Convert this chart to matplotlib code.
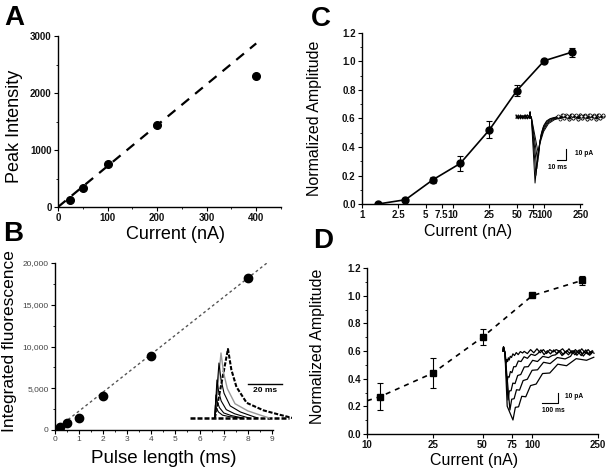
import matplotlib
matplotlib.use('Agg')
import matplotlib.pyplot as plt
import numpy as np
from matplotlib.ticker import FixedLocator, FixedFormatter, FuncFormatter, MultipleLocator, NullLocator

plt.rcParams['font.family'] = ['Liberation Sans', 'DejaVu Sans']

W, H = 607, 472

# ---- panel A: peak intensity vs current
a_current = [25, 50, 100, 200, 400]
a_peak = [130, 340, 760, 1440, 2300]
a_fit_x = [0, 400]
a_fit_y = [0, 2870]

# ---- panel B: integrated fluorescence vs pulse length
b_pulse = [0.2, 0.5, 1, 2, 4, 8]
b_fluor = [400, 850, 1450, 4100, 8900, 18200]
b_fit_x = [0, 8.8]
b_fit_y = [0, 20000]

# ---- panel C: normalized amplitude vs current (log)
c_current = [1.5, 3, 6, 12, 25, 50, 100, 200]
c_amp = [0.0, 0.03, 0.17, 0.285, 0.52, 0.795, 1.005, 1.065]
c_err = [0.01, 0.015, 0.02, 0.05, 0.06, 0.04, 0.01, 0.03]
c_ticks = [1, 2.5, 5, 7.5, 10, 25, 50, 75, 100, 250]
c_ticklabels = ['1', '2.5', '5', '7.5', '10', '25', '50', '75', '100', '250']

# ---- panel D
d_current = [12, 25, 50, 100, 200]
d_amp = [0.27, 0.44, 0.70, 1.005, 1.11]
d_err = [0.10, 0.11, 0.06, 0.01, 0.03]
d_fit_x = [10, 12, 25, 50, 100, 200]
d_fit_y = [0.24, 0.27, 0.44, 0.70, 1.0, 1.11]
d_ticks = [10, 25, 50, 75, 100, 250]
d_ticklabels = ['10', '25', '50', '75', '100', '250']

# ---- inset traces
b_ins_amp = [69, 65, 55, 38, 23, 13]
b_ins_peak = [24.7, 20.6, 19.4, 18.2, 17.6, 17.3]
b_ins_stretch = [1.0, 0.75, 0.6, 0.5, 0.42, 0.38]
b_decay_dt = [0, 2, 5, 11, 21, 30, 38]
b_decay_frac = [1, 0.7, 0.45, 0.22, 0.11, 0.05, 0.0]

c_ins_amp = [60, 53, 47, 41, 35]
c_ins_peak = [25.5, 26.5, 27.5, 28.5, 29.5]
c_ins_stretch = [1.35, 1.2, 1.05, 0.9, 0.8]
c_decay_dt = [0, 2, 4, 7, 11, 16, 24]
c_decay_frac = [1, 0.62, 0.40, 0.22, 0.10, 0.04, 0.0]
c_noise = [0.8, -0.9, 1.3, -0.5, 0.6, -1.2, 1.0, -0.4, 1.4, -1.0, 0.3, -0.7]

d_ins_amp = [69, 59, 49, 32, 12]
d_ins_peak = [81, 62, 50, 44, 40]
d_ins_stretch = [1.0, 0.75, 0.55, 0.38, 0.22]
d_decay_dt = [0, 15, 35, 55, 80, 110, 145, 185, 230, 280, 335, 395, 460, 505]
d_decay_frac = [1, 0.86, 0.78, 0.70, 0.62, 0.53, 0.45, 0.37, 0.29, 0.22, 0.17, 0.14, 0.12, 0.12]
d_noise = [0, 3, -2, 3, -3, 2, -2, 3, -2, 2, -3, 2, -1, 2]


def px_axes(l, t, r, b):
    return fig.add_axes([l / W, 1 - b / H, (r - l) / W, (b - t) / H])


def style_axes(ax, size=7, bold=True, color='#111111'):
    for s in ['top', 'right']:
        ax.spines[s].set_visible(False)
    for s in ['left', 'bottom']:
        ax.spines[s].set_linewidth(1.0)
    ax.tick_params(which='major', direction='out', length=3, width=0.8,
                   labelsize=size, pad=1.5, labelcolor=color)
    ax.tick_params(which='minor', direction='out', length=1.6, width=0.6)
    for lab in ax.get_xticklabels() + ax.get_yticklabels():
        lab.set_fontweight('bold' if bold else 'normal')


def place_labels(ax, xl, yl, xpos, ypos, size, ysize=None):
    ax.set_xlabel(xl, fontsize=size)
    ax.set_ylabel(yl, fontsize=ysize or size)
    ax.xaxis.set_label_coords(*xpos)
    ax.yaxis.set_label_coords(*ypos)
    ax.xaxis.label.set_va('center')
    ax.yaxis.label.set_va('center')


fig = plt.figure(figsize=(W / 100, H / 100), dpi=100)

# ================= A
axA = px_axes(58, 36, 281, 207)
axA.plot(a_fit_x, a_fit_y, color='black', lw=1.6, dashes=(4.5, 3.5))
axA.plot(a_current, a_peak, 'o', color='black', ms=5.5)
axA.set_xlim(0, 450)
axA.set_ylim(0, 3000)
axA.xaxis.set_major_locator(MultipleLocator(100))
axA.xaxis.set_minor_locator(MultipleLocator(50))
axA.yaxis.set_major_locator(MultipleLocator(1000))
axA.yaxis.set_minor_locator(MultipleLocator(500))
style_axes(axA)
place_labels(axA, 'Current (nA)', 'Peak Intensity', (0.529, -0.158), (-0.197, 0.474), 13)

# ================= B
axB = px_axes(55, 263, 273, 430)
axB.plot(b_fit_x, b_fit_y, color='#555555', lw=1.0, dashes=(2, 2))
axB.plot(b_pulse, b_fluor, 'o', color='black', ms=6)
axB.set_xlim(0, 9.05)
axB.set_ylim(0, 20000)
axB.xaxis.set_major_locator(MultipleLocator(1))
axB.xaxis.set_minor_locator(MultipleLocator(0.5))
axB.yaxis.set_major_locator(MultipleLocator(5000))
axB.yaxis.set_minor_locator(MultipleLocator(2500))
axB.yaxis.set_major_formatter(FuncFormatter(lambda v, p: f'{int(v):,}'))
style_axes(axB, size=6, bold=False, color='#444444')
place_labels(axB, 'Pulse length (ms)', 'Integrated fluorescence', (0.5, -0.172), (-0.21, 0.53), 13.5, 12.5)

# ================= C
axC = px_axes(362, 33, 582, 204)
axC.set_xscale('log')
axC.errorbar(c_current, c_amp, yerr=c_err, fmt='-o', color='black', ms=5,
             lw=1.2, elinewidth=0.8, capsize=2, capthick=0.8)
axC.set_xlim(1, 260)
axC.set_ylim(0, 1.2)
axC.xaxis.set_major_locator(FixedLocator(c_ticks))
axC.xaxis.set_major_formatter(FixedFormatter(c_ticklabels))
axC.xaxis.set_minor_locator(NullLocator())
axC.yaxis.set_major_locator(MultipleLocator(0.2))
axC.yaxis.set_minor_locator(MultipleLocator(0.1))
axC.yaxis.set_major_formatter(FuncFormatter(lambda v, p: f'{v:.1f}'))
style_axes(axC)
place_labels(axC, 'Current (nA)', 'Normalized Amplitude', (0.482, -0.158), (-0.214, 0.503), 11.5)

# ================= D
axD = px_axes(367, 268, 598, 434)
axD.set_xscale('log')
axD.plot(d_fit_x, d_fit_y, color='black', lw=1.2, dashes=(3, 3))
axD.errorbar(d_current, d_amp, yerr=d_err, fmt='s', color='black', ms=4.5,
             elinewidth=0.8, capsize=2, capthick=0.8)
axD.set_xlim(10, 250)
axD.set_ylim(0, 1.2)
axD.xaxis.set_major_locator(FixedLocator(d_ticks))
axD.xaxis.set_major_formatter(FixedFormatter(d_ticklabels))
axD.xaxis.set_minor_locator(NullLocator())
axD.yaxis.set_major_locator(MultipleLocator(0.2))
axD.yaxis.set_minor_locator(MultipleLocator(0.1))
axD.yaxis.set_major_formatter(FuncFormatter(lambda v, p: f'{v:.1f}'))
style_axes(axD)
place_labels(axD, 'Current (nA)', 'Normalized Amplitude', (0.463, -0.157), (-0.216, 0.53), 11.5)

# ================= inset B: fluorescence transients
insB = px_axes(186, 340, 292, 425)
insB.axis('off')
insB.set_xlim(0, 62.4)
insB.set_ylim(-7, 78)
insB.plot([2.4, 60.5], [0, 0], color='black', lw=1.8, dashes=(2, 0.8))
for i, (amp, pk, st) in enumerate(zip(b_ins_amp, b_ins_peak, b_ins_stretch)):
    tt = [17] + [pk + d * st for d in b_decay_dt]
    yy = [0] + [amp * f for f in b_decay_frac]
    if i == 0:
        insB.plot(tt, yy, color='black', lw=1.5, dashes=(2, 0.8))
    elif i == 1:
        insB.plot(tt, yy, color='#999999', lw=1.0)
    else:
        insB.plot(tt, yy, color='black', lw=0.8)
insB.plot([36.5, 56.5], [34, 34], color='black', lw=1.0)
insB.text(46.5, 27, '20 ms', ha='center', va='center', fontsize=6, fontweight='bold')

# ================= inset C: currents
insC = px_axes(512, 106, 606, 188)
insC.axis('off')
insC.set_xlim(0, 104)
insC.set_ylim(-64.5, 10)
pre_t = np.arange(4.5, 20, 2.5)
for i, (amp, pk, st) in enumerate(zip(c_ins_amp, c_ins_peak, c_ins_stretch)):
    tt = list(pre_t) + [20.0, 20.7, 21.4]
    yy = [1.5 * c_noise[(k + i) % len(c_noise)] for k in range(len(pre_t))] + [4.5, -1, 0]
    tt += [pk + d * st for d in c_decay_dt]
    yy += [-amp * f for f in c_decay_frac]
    post_t = np.arange(tt[-1] + 2.5, 101.5, 2.5)
    tt += list(post_t)
    yy += [1.6 * c_noise[(k + 3 * i) % len(c_noise)] for k in range(len(post_t))]
    insC.plot(tt, yy, color='black', lw=0.7)
    insC.plot(post_t[::2], [yy[-len(post_t):][k] for k in range(0, len(post_t), 2)], 'o',
              ms=2.2, mfc='white', mec='black', mew=0.5)
insC.plot([50, 60, 60], [-39, -39, -29], color='black', lw=0.8)
insC.text(70, -33, '10 pA', ha='left', va='center', fontsize=4.8, fontweight='bold')
insC.text(40, -45.5, '10 ms', ha='left', va='center', fontsize=4.8, fontweight='bold')

# ================= inset D: currents
insD = px_axes(500, 340, 600, 425)
insD.axis('off')
insD.set_xlim(0, 625)
insD.set_ylim(-74, 11)
for i, (amp, pk, st) in enumerate(zip(d_ins_amp, d_ins_peak, d_ins_stretch)):
    tt = [19, 22, 28, 31]
    yy = [0, 4, 0, -2]
    if i == 0:
        tt.append(45)
        yy.append(-0.8 * amp)
    tt += [pk + d * st for d in d_decay_dt]
    yy += [-amp * f + n * (0.4 + 0.6 * st) for f, n in zip(d_decay_frac, d_noise)]
    t_post = np.arange(tt[-1] + 20, 590, 20)
    tt += list(t_post)
    yy += [yy[-1] * 0.5 + d_noise[(k + i) % len(d_noise)] * 0.8 for k in range(len(t_post))]
    insD.plot(tt, yy, color='black', lw=0.9)
insD.plot([262.5, 362.5, 362.5], [-52, -52, -42], color='black', lw=0.8)
insD.text(406, -46, '10 pA', ha='left', va='center', fontsize=4.8, fontweight='bold')
insD.text(262, -60, '100 ms', ha='left', va='center', fontsize=4.8, fontweight='bold')

# ================= panel letters
for letter, (x, y) in zip('ABCD', [(14, 18), (13, 234), (321, 19), (323, 241)]):
    fig.text(x / W, 1 - y / H, letter, fontsize=20, fontweight='bold', ha='center', va='center')

fig.savefig('out.png', dpi=100)
